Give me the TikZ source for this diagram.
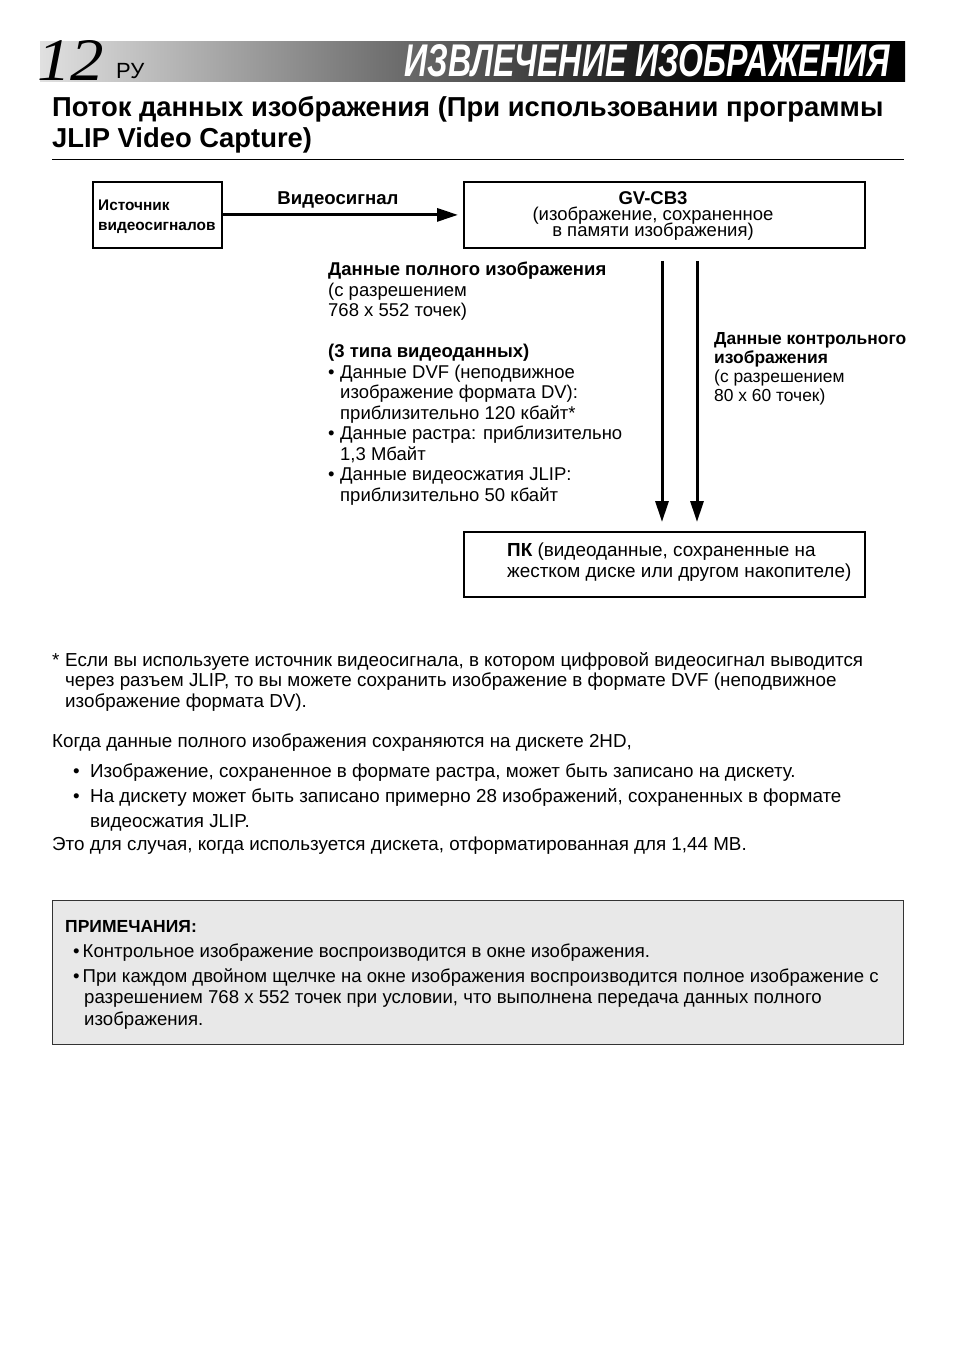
\documentclass[tikz,border=0pt]{standalone}
\usepackage{fontspec}
\setmainfont{Liberation Sans}
\newfontfamily\serifnum{Liberation Serif}
\usepackage{graphicx}
\usetikzlibrary{arrows.meta}
\pgfdeclarehorizontalshading{band}{100bp}{color(0bp)=(black!12); color(25bp)=(black!12); color(65bp)=(black); color(100bp)=(black)}
\newcommand\tightlines{\lineskiplimit=-6pt\relax\lineskip=0pt\relax}

\begin{document}
\begin{tikzpicture}[x=1pt,y=-1pt]

\tikzstyle{every node}=[inner sep=0pt]
\tikzstyle{txt}=[anchor=base west, align=left, font=\fontsize{18.8}{20.5}\selectfont]
\tikzstyle{box}=[draw, line width=1.8pt, anchor=north west, minimum height=66pt]
\tikzstyle{flow}=[line width=3pt, -{Triangle[length=21pt,width=13pt]}]

\useasboundingbox (0,0) rectangle (954,1355);

% header (multi-line nodes below are placed by the baseline of their last line)
\shade[shading=band] (40,41) rectangle (905,81);
\node[anchor=base west] (pagenum) at (37,80) {\resizebox{67pt}{40pt}{\serifnum\itshape 12}};
\node[anchor=base west, font=\fontsize{22}{22}\selectfont] (lang) at (116,78) {РУ};
\node[anchor=base west, text=white] (title) at (404,76) {\resizebox{486pt}{32pt}{\bfseries\itshape ИЗВЛЕЧЕНИЕ ИЗОБРАЖЕНИЯ}};

\node[anchor=base west, align=left, font=\fontsize{27.4}{31}\selectfont\bfseries] (heading) at (52,147)
  {Поток данных изображения (При использовании программы\\JLIP Video Capture)};
\draw[line width=0.8pt] (52,159) -- (904,159);

% boxes
\node[box, minimum width=129pt] (src) at (92,181) {};
\node[box, minimum width=401pt] (cam) at (463,181) {};
\node[box, minimum width=401pt, minimum height=65pt] (pc) at (463,531) {};

\node[anchor=base west, align=left, font=\fontsize{15.4}{20}\selectfont\bfseries] (srctext) at (98,230)
  {Источник\\видеосигналов};
\node[anchor=base, align=center, font={\fontsize{18.5}{16}\selectfont\tightlines}] (camtext) at (653,236)
  {\textbf{GV-CB3}\\(изображение, сохраненное\\в памяти изображения)};
\node[txt, font=\fontsize{18.9}{21}\selectfont] (pctext) at (507,577)
  {\textbf{ПК} (видеоданные, сохраненные на\\жестком диске или другом накопителе)};

% arrows
\coordinate (full) at (662,0);
\coordinate (thumb) at (697,0);
\draw[flow, shorten >=5pt] (src.east) -- (cam.west);
\node[anchor=base, font=\fontsize{18.6}{18.6}\selectfont\bfseries] (signal) at (338,204) {Видеосигнал};
\draw[flow, shorten <=12pt, shorten >=9pt] (full |- cam.south) -- (full |- pc.north);
\draw[flow, shorten <=12pt, shorten >=9pt] (thumb |- cam.south) -- (thumb |- pc.north);

% labels
\node[txt, font=\fontsize{18.5}{20.5}\selectfont] (fulldata) at (328,501)
  {\textbf{Данные полного изображения}\\
   (с разрешением\\
   768 x 552 точек)\\[20.5pt]
   \textbf{(3 типа видеоданных)}\\
   \makebox[12pt][l]{•}Данные DVF (неподвижное\\
   \hspace*{12pt}изображение формата DV):\\
   \hspace*{12pt}приблизительно 120 кбайт*\\
   \makebox[12pt][l]{•}Данные растра: приблизительно\\
   \hspace*{12pt}1,3 Мбайт\\
   \makebox[12pt][l]{•}Данные видеосжатия JLIP:\\
   \hspace*{12pt}приблизительно 50 кбайт};
\node[txt, font=\fontsize{17.4}{18.7}\selectfont] (thumbdata) at (714,401)
  {\textbf{Данные контрольного}\\
   \textbf{изображения}\\
   (с разрешением\\
   80 x 60 точек)};

% footnote
\node[txt] (star) at (52,666) {*};
\node[txt] (footnote) at (65,707)
  {Если вы используете источник видеосигнала, в котором цифровой видеосигнал выводится\\
   через разъем JLIP, то вы можете сохранить изображение в формате DVF (неподвижное\\
   изображение формата DV).};

% body
\node[txt] (body) at (52,747) {Когда данные полного изображения сохраняются на дискете 2HD,};
\node[txt] (dot1) at (73,777) {•};
\node[txt] (item1) at (90,777) {Изображение, сохраненное в формате растра, может быть записано на дискету.};
\node[txt] (dot2) at (73,802) {•};
\node[txt, font=\fontsize{18.8}{25}\selectfont] (item2) at (90,827)
  {На дискету может быть записано примерно 28 изображений, сохраненных в формате\\
   видеосжатия JLIP.};
\node[txt] (remark) at (52,850) {Это для случая, когда используется дискета, отформатированная для 1,44 MB.};

% notes
\node[draw=black!80, fill=black!9, line width=1pt, anchor=north west,
      minimum width=851pt, minimum height=144pt] (notes) at (52,900) {};
\node[txt, font=\fontsize{17.5}{20}\selectfont\bfseries] (notestitle) at (65,932) {ПРИМЕЧАНИЯ:};
\node[txt, font=\fontsize{18.6}{20.5}\selectfont] (note1) at (73,957)
  {•\hspace{3pt}Контрольное изображение воспроизводится в окне изображения.};
\node[txt, font=\fontsize{18.6}{21.5}\selectfont] (note2) at (73,1025)
  {•\hspace{3pt}При каждом двойном щелчке на окне изображения воспроизводится полное изображение с\\
   \hspace*{11pt}разрешением 768 x 552 точек при условии, что выполнена передача данных полного\\
   \hspace*{11pt}изображения.};

\end{tikzpicture}
\end{document}
